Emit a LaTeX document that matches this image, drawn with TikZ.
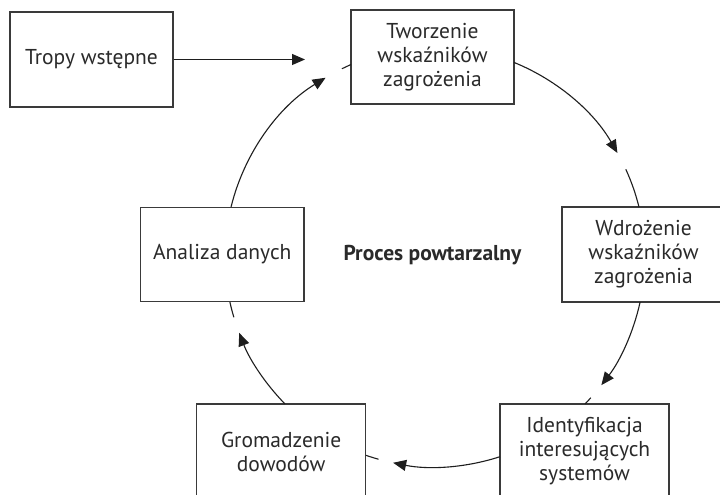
\documentclass[tikz,border=0pt]{standalone}
\usepackage{fontspec}
\setmainfont{PT Sans}
\usetikzlibrary{arrows.meta}
\definecolor{boxline}{HTML}{3A3A3A}
\definecolor{inkc}{HTML}{1E1E1E}
\definecolor{txt}{HTML}{2A2A2A}
\tikzset{
  procbox/.style={draw=boxline, line width=1.3pt, fill=white, align=center,
    text=txt, inner sep=0pt, font=\fontsize{21.5}{24}\selectfont},
  conn/.style={draw=inkc, line width=1.1pt},
  arr/.style={conn, -{Triangle[length=13pt,width=11pt]}},
}
\begin{document}
\begin{tikzpicture}[x=1pt,y=1pt]
\useasboundingbox (0,0) rectangle (720,495);
\fill[white] (0,0) rectangle (720,495);
\coordinate (c) at (435,238);
\node[procbox, minimum width=163pt, minimum height=95pt] (tr) at (91.5,435.5) {Tropy wstępne};
\node[procbox, minimum width=163pt, minimum height=94pt] (tw) at (432.5,438) {Tworzenie\\wskaźników\\zagrożenia};
\node[procbox, minimum width=163pt, minimum height=95pt] (wd) at (643.5,240.5) {Wdrożenie\\wskaźników\\zagrożenia};
\node[procbox, minimum width=163.5pt, minimum height=94.5pt] (an) at (222.3,240.5) {Analiza danych};
\node[procbox, minimum width=169pt, minimum height=95pt] (gr) at (281.2,43.5) {Gromadzenie\\dowodów};
\node[procbox, minimum width=169pt, minimum height=95pt] (id) at (584.5,43.5) {Identyfikacja\\interesujących\\systemów};
\node[text=txt, font=\fontsize{21.5}{24}\selectfont\bfseries] (pp) at (432.5,240) {Proces powtarzalny};
\coordinate (trtip) at (305,435.5);
\draw[arr] (tr.east) -- (trtip);
% circle arcs
\draw[arr] ([shift={(166.2:210pt)}]c) arc[start angle=166.2, end angle=121.4, radius=210pt];
\draw[conn] ([shift={(116.3:210pt)}]c) arc[start angle=116.3, end angle=113.6, radius=210pt];
\draw[arr] ([shift={(67.9:210pt)}]c) arc[start angle=67.9, end angle=29.7, radius=210pt];
\draw[conn] ([shift={(24.7:210pt)}]c) arc[start angle=24.7, end angle=13.8, radius=210pt];
\draw[arr] ([shift={(-12.4:210pt)}]c) arc[start angle=-12.4, end angle=-37.6, radius=210pt];
\draw[conn] ([shift={(-42.1:210pt)}]c) arc[start angle=-42.1, end angle=-44.4, radius=210pt];
\draw[arr] ([shift={(-72:210pt)}]c) arc[start angle=-72, end angle=-101.5, radius=210pt];
\draw[conn] ([shift={(-105.6:210pt)}]c) arc[start angle=-105.6, end angle=-109.2, radius=210pt];
\draw[arr] ([shift={(-135.6:210pt)}]c) arc[start angle=-135.6, end angle=-158.8, radius=210pt];
\draw[conn] ([shift={(-163.3:210pt)}]c) arc[start angle=-163.3, end angle=-167.6, radius=210pt];
\end{tikzpicture}
\end{document}
